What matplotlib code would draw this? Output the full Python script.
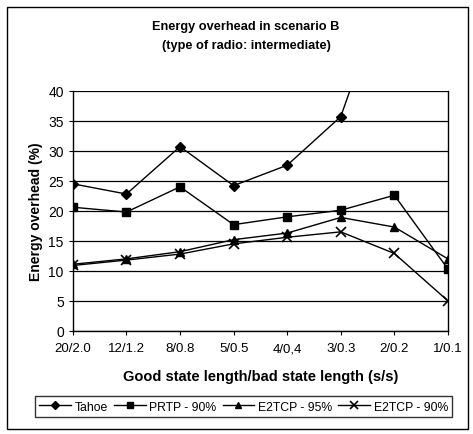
import numpy as np
import matplotlib.pyplot as plt
from matplotlib.patches import Rectangle

plt.rcParams['font.family'] = ['Liberation Sans', 'DejaVu Sans']

categories = ['20/2.0', '12/1.2', '8/0.8', '5/0.5', '4/0,4', '3/0.3', '2/0.2', '1/0.1']
tahoe = [24.5, 22.8, 30.7, 24.2, 27.6, 35.7, 61.0, 90.0]
prtp_90 = [20.6, 19.8, 24.0, 17.7, 19.0, 20.1, 22.6, 10.3]
e2tcp_95 = [11.1, 12.0, 13.2, 15.2, 16.3, 18.9, 17.3, 12.0]
e2tcp_90 = [10.9, 11.8, 12.8, 14.5, 15.6, 16.5, 12.9, 5.0]

fig = plt.figure(figsize=(4.73, 4.35), dpi=100)
fig.patches.append(Rectangle((0.015, 0.012), 0.975, 0.97, transform=fig.transFigure,
                             fill=False, edgecolor='black', linewidth=1.0))
ax = fig.add_axes([0.154, 0.237, 0.793, 0.552])

x = np.arange(len(categories))
ax.plot(x, tahoe, color='black', lw=1, marker='D', ms=5, label='Tahoe')
ax.plot(x, prtp_90, color='black', lw=1, marker='s', ms=5.5, label='PRTP - 90%')
ax.plot(x, e2tcp_95, color='black', lw=1, marker='^', ms=6, label='E2TCP - 95%')
ax.plot(x, e2tcp_90, color='black', lw=1, marker='x', ms=7, mew=1.2, label='E2TCP - 90%')

ax.set_xlim(0, 7)
ax.set_ylim(0, 40)
ax.set_yticks(range(0, 41, 5))
ax.set_xticks(x)
ax.set_xticklabels(categories, fontsize=9.5)
ax.tick_params(axis='y', labelsize=10, length=3)
ax.tick_params(axis='x', length=3, pad=5)
ax.grid(axis='y', color='black', lw=0.9)
ax.set_axisbelow(True)
for s in ['left', 'bottom', 'right']:
    ax.spines[s].set_linewidth(1.0)
ax.spines['top'].set_visible(False)

fig.text(0.52, 0.93, 'Energy overhead in scenario B', ha='center', fontsize=9.2, fontweight='bold')
fig.text(0.52, 0.888, '(type of radio: intermediate)', ha='center', fontsize=9.2, fontweight='bold')
ax.set_ylabel('Energy overhead (%)', fontsize=10, fontweight='bold', labelpad=4)
ax.set_xlabel('Good state length/bad state length (s/s)', fontsize=10.5, fontweight='bold', labelpad=11)

leg = fig.legend(loc='center', bbox_to_anchor=(0.515, 0.063), ncol=4, fontsize=8.8,
                 frameon=True, fancybox=False, edgecolor='black', handlelength=2.6,
                 handletextpad=0.3, columnspacing=0.5, borderpad=0.35, markerscale=0.8)
leg.get_frame().set_linewidth(1.0)

fig.savefig('out.png', dpi=100)
